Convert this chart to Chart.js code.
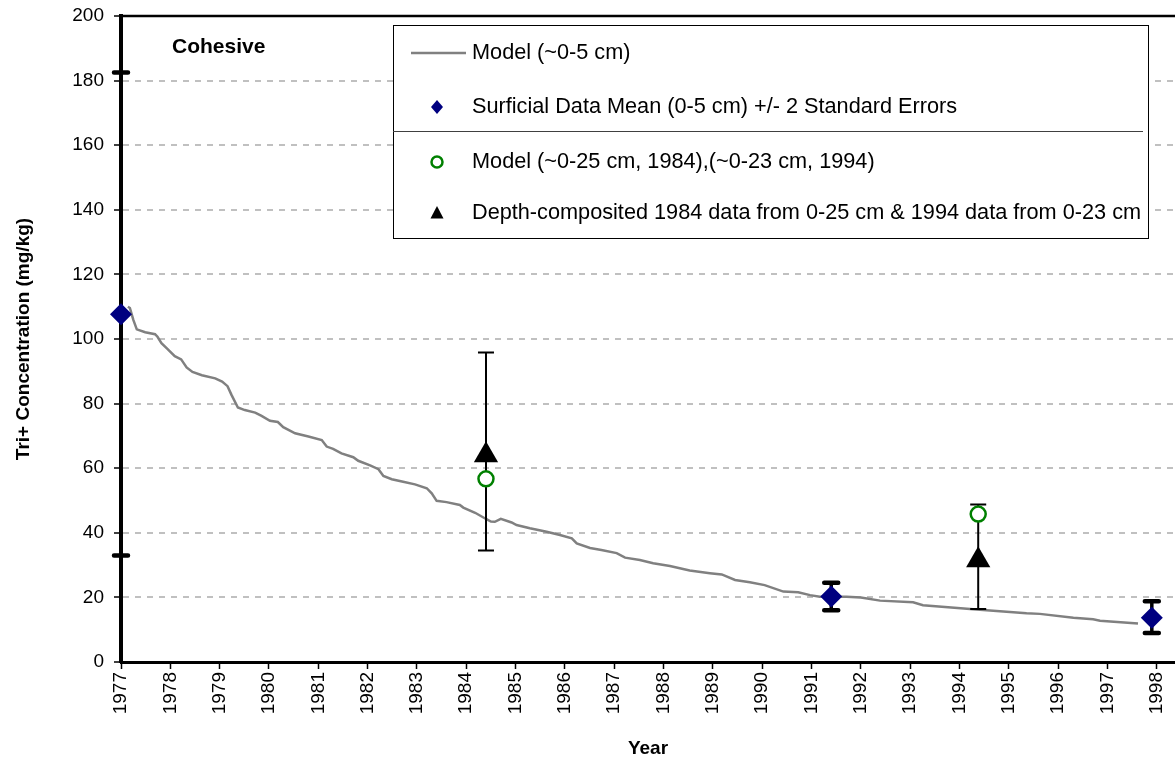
<!DOCTYPE html>
<html>
<head>
<meta charset="utf-8">
<title>Tri+ Concentration - Cohesive</title>
<script src="https://cdn.jsdelivr.net/npm/chart.js@4/dist/chart.umd.min.js"></script>
<style>
  html, body { margin: 0; padding: 0; background: #ffffff; overflow: hidden; }
  #wrap { width: 1175px; height: 762px; }
</style>
</head>
<body>
<div id="wrap"><canvas id="chart" width="1175" height="762"></canvas></div>
<script>
// Year tick labels on the x axis
const yearTicks = [1977, 1978, 1979, 1980, 1981, 1982, 1983, 1984, 1985, 1986, 1987,
                   1988, 1989, 1990, 1991, 1992, 1993, 1994, 1995, 1996, 1997, 1998];

// Model (~0-5 cm) time series
const modelYears = [
  1977.14, 1977.18, 1977.25, 1977.32, 1977.49, 1977.69, 1977.74, 1977.82, 1977.93, 1978.09,
  1978.22, 1978.33, 1978.45, 1978.64, 1978.91, 1979.05, 1979.16, 1979.24, 1979.37, 1979.51,
  1979.72, 1979.85, 1980.02, 1980.18, 1980.29, 1980.53, 1980.80, 1981.07, 1981.17, 1981.30,
  1981.47, 1981.71, 1981.81, 1982.05, 1982.22, 1982.32, 1982.49, 1982.72, 1982.96, 1983.20,
  1983.30, 1983.40, 1983.60, 1983.87, 1983.94, 1984.18, 1984.41, 1984.50, 1984.58, 1984.70,
  1984.92, 1985.02, 1985.29, 1985.63, 1985.90, 1986.14, 1986.24, 1986.51, 1986.74, 1987.05,
  1987.22, 1987.52, 1987.79, 1988.13, 1988.53, 1988.94, 1989.18, 1989.45, 1989.75, 1990.05,
  1990.43, 1990.73, 1990.97, 1991.17, 1991.71, 1992.00, 1992.39, 1993.06, 1993.26, 1994.28,
  1995.36, 1995.63, 1996.31, 1996.71, 1996.85, 1997.62
];
const modelValues = [
  110.0, 109.6, 105.9, 103.0, 102.1, 101.5, 100.7, 98.7, 97.1, 94.7,
  93.7, 91.2, 89.8, 88.8, 87.8, 86.8, 85.4, 82.7, 78.8, 78.0,
  77.2, 76.2, 74.7, 74.3, 72.7, 70.8, 69.8, 68.7, 66.7, 66.0,
  64.6, 63.4, 62.3, 60.9, 59.7, 57.6, 56.6, 55.8, 55.0, 53.8,
  52.2, 49.9, 49.5, 48.6, 47.8, 46.2, 44.2, 43.5, 43.4, 44.3,
  43.2, 42.4, 41.4, 40.3, 39.3, 38.3, 36.7, 35.3, 34.7, 33.7,
  32.3, 31.6, 30.6, 29.7, 28.3, 27.5, 27.1, 25.4, 24.7, 23.8,
  21.8, 21.6, 20.7, 20.2, 20.2, 20.0, 19.0, 18.5, 17.6, 16.3,
  15.1, 14.9, 13.7, 13.2, 12.8, 11.9
];

// Surficial data mean (0-5 cm) with +/- 2 standard errors
const surfYears = [1977.0, 1991.4, 1997.9];
const surfMeans = [107.7, 20.3, 13.7];
const surfLow   = [33.0, 16.0, 9.0];
const surfHigh  = [182.5, 24.5, 18.8];

// Depth-composited data (1984: 0-25 cm, 1994: 0-23 cm)
const compYears = [1984.4, 1994.38];
const compMeans = [64.0, 31.5];
const compLow   = [34.5, 16.4];
const compHigh  = [95.8, 48.8];

// Model over the deeper layers (~0-25 cm 1984, ~0-23 cm 1994)
const deepYears  = [1984.4, 1994.38];
const deepValues = [56.7, 45.8];

const FONT = "'Liberation Sans', Arial, Helvetica, sans-serif";

const toPoints = (xs, ys) => xs.map((x, i) => ({ x: x, y: ys[i] }));

// Draws vertical error bars for any dataset that carries an errorBars block,
// just before that dataset's markers so the markers sit on top.
const errorBarPlugin = {
  id: 'errorBars',
  beforeDatasetDraw(chart, args) {
    const ds = chart.data.datasets[args.index];
    const eb = ds.errorBars;
    if (!eb) return;
    const xs = chart.scales.x, ys = chart.scales.y, ctx = chart.ctx;
    ctx.save();
    ctx.strokeStyle = '#000000';
    ds.data.forEach((p, i) => {
      const px = xs.getPixelForValue(p.x);
      const lo = ys.getPixelForValue(eb.low[i]);
      const hi = ys.getPixelForValue(eb.high[i]);
      ctx.lineCap = 'butt';
      ctx.lineWidth = eb.stemWidth;
      ctx.beginPath();
      ctx.moveTo(px, lo);
      ctx.lineTo(px, hi);
      ctx.stroke();
      ctx.lineCap = eb.capStyle;
      ctx.lineWidth = eb.capWidth;
      ctx.beginPath();
      ctx.moveTo(px - eb.capHalf, lo); ctx.lineTo(px + eb.capHalf, lo);
      ctx.moveTo(px - eb.capHalf, hi); ctx.lineTo(px + eb.capHalf, hi);
      ctx.stroke();
    });
    ctx.restore();
  }
};

// Top frame line, panel label and the boxed legend
const decorPlugin = {
  id: 'decor',
  beforeDatasetsDraw(chart) {
    const { ctx, chartArea } = chart;
    ctx.save();
    ctx.strokeStyle = '#000000';
    ctx.lineWidth = 2.5;
    ctx.beginPath();
    ctx.moveTo(chartArea.left, chartArea.top);
    ctx.lineTo(chartArea.right, chartArea.top);
    ctx.stroke();
    ctx.restore();
  },
  afterDatasetsDraw(chart) {
    const ctx = chart.ctx;
    ctx.save();

    // panel label
    ctx.fillStyle = '#000000';
    ctx.font = 'bold 21px ' + FONT;
    ctx.textAlign = 'left';
    ctx.textBaseline = 'middle';
    ctx.fillText('Cohesive', 172, 47);

    // legend box
    const L = 393, T = 25, R = 1148, B = 238;
    ctx.fillStyle = '#ffffff';
    ctx.fillRect(L, T, R - L, B - T);
    ctx.strokeStyle = '#000000';
    ctx.lineWidth = 1;
    ctx.strokeRect(L + 0.5, T + 0.5, R - L, B - T);
    ctx.strokeStyle = '#404040';
    ctx.beginPath();
    ctx.moveTo(L, 131.5);
    ctx.lineTo(R - 5, 131.5);
    ctx.stroke();

    const ds = chart.data.datasets;
    const mx = 437, tx = 472;
    ctx.font = '21.7px ' + FONT;
    ctx.fillStyle = '#000000';
    ctx.textBaseline = 'middle';

    // row 1: model line
    ctx.strokeStyle = ds[3].borderColor;
    ctx.lineWidth = 2.5;
    ctx.beginPath();
    ctx.moveTo(411, 53); ctx.lineTo(466, 53);
    ctx.stroke();
    ctx.fillText(ds[3].label, tx, 53);

    // row 2: diamond
    ctx.fillStyle = ds[2].backgroundColor;
    ctx.beginPath();
    ctx.moveTo(mx, 107 - 7); ctx.lineTo(mx + 6, 107);
    ctx.lineTo(mx, 107 + 7); ctx.lineTo(mx - 6, 107);
    ctx.closePath();
    ctx.fill();
    ctx.fillStyle = '#000000';
    ctx.fillText(ds[2].label, tx, 107);

    // row 3: open circle
    ctx.strokeStyle = ds[0].borderColor;
    ctx.lineWidth = 2.5;
    ctx.beginPath();
    ctx.arc(mx, 162, 5.5, 0, Math.PI * 2);
    ctx.stroke();
    ctx.fillText(ds[0].label, tx, 162);

    // row 4: triangle
    ctx.fillStyle = ds[1].backgroundColor;
    ctx.beginPath();
    ctx.moveTo(mx, 213 - 7); ctx.lineTo(mx + 6.5, 213 + 5.5); ctx.lineTo(mx - 6.5, 213 + 5.5);
    ctx.closePath();
    ctx.fill();
    ctx.fillStyle = '#000000';
    ctx.fillText(ds[1].label, tx, 213);

    ctx.restore();
  }
};

const ctx = document.getElementById('chart').getContext('2d');
new Chart(ctx, {
  type: 'scatter',
  data: {
    datasets: [
      {
        label: 'Model (~0-25 cm, 1984),(~0-23 cm, 1994)',
        data: toPoints(deepYears, deepValues),
        order: 0,
        pointStyle: 'circle',
        pointRadius: 7.5,
        pointBorderWidth: 2.5,
        borderColor: '#008000',
        backgroundColor: '#ffffff',
        clip: false
      },
      {
        label: 'Depth-composited 1984 data from 0-25 cm & 1994 data from 0-23 cm',
        data: toPoints(compYears, compMeans),
        order: 1,
        pointStyle: 'triangle',
        pointRadius: 14,
        pointBorderWidth: 0,
        borderColor: '#000000',
        backgroundColor: '#000000',
        clip: false,
        errorBars: { low: compLow, high: compHigh, stemWidth: 2, capWidth: 2, capHalf: 8, capStyle: 'butt' }
      },
      {
        label: 'Surficial Data Mean (0-5 cm) +/- 2 Standard Errors',
        data: toPoints(surfYears, surfMeans),
        order: 2,
        pointStyle: 'rectRot',
        pointRadius: 11,
        pointBorderWidth: 0,
        borderColor: '#000080',
        backgroundColor: '#000080',
        clip: false,
        errorBars: { low: surfLow, high: surfHigh, stemWidth: 3.5, capWidth: 4.5, capHalf: 7, capStyle: 'round' }
      },
      {
        label: 'Model (~0-5 cm)',
        data: toPoints(modelYears, modelValues),
        order: 3,
        showLine: true,
        pointRadius: 0,
        borderColor: '#808080',
        borderWidth: 2.5,
        tension: 0,
        clip: false
      }
    ]
  },
  options: {
    responsive: false,
    animation: false,
    events: [],
    layout: { autoPadding: false, padding: { top: 16, right: 0, bottom: 0, left: 0 } },
    plugins: {
      legend: { display: false },
      tooltip: { enabled: false }
    },
    scales: {
      x: {
        type: 'linear',
        min: 1977,
        max: 1998.37,
        afterBuildTicks: (scale) => { scale.ticks = yearTicks.map(v => ({ value: v })); },
        afterFit: (scale) => {
          scale.height = 100;
          scale.paddingLeft = 0;
          scale.paddingRight = 0;
        },
        ticks: {
          autoSkip: false,
          minRotation: 90,
          maxRotation: 90,
          padding: 3,
          color: '#000000',
          font: { family: FONT, size: 19 },
          callback: (v) => String(v)
        },
        grid: {
          drawOnChartArea: false,
          drawTicks: true,
          tickLength: 7,
          tickColor: '#000000',
          tickWidth: 1.5
        },
        border: { display: true, color: '#000000', width: 3 },
        title: {
          display: true,
          text: 'Year',
          color: '#000000',
          font: { family: FONT, size: 19, weight: 'bold' },
          padding: { top: 2, bottom: 2 }
        }
      },
      y: {
        type: 'linear',
        min: 0,
        max: 200,
        afterFit: (scale) => {
          scale.width = 121;
          scale.paddingTop = 0;
          scale.paddingBottom = 0;
        },
        ticks: {
          stepSize: 20,
          padding: 10,
          color: '#000000',
          font: { family: FONT, size: 19 }
        },
        grid: {
          color: '#c0c0c0',
          lineWidth: 2,
          drawTicks: true,
          tickLength: 7,
          tickColor: '#000000',
          tickWidth: 1.5,
          tickBorderDash: []
        },
        border: { display: true, color: '#000000', width: 4, dash: [6, 6], dashOffset: 0 },
        title: {
          display: true,
          text: 'Tri+ Concentration (mg/kg)',
          color: '#000000',
          font: { family: FONT, size: 19, weight: 'bold' },
          padding: { top: 12, bottom: 12 }
        }
      }
    }
  },
  plugins: [errorBarPlugin, decorPlugin]
});
</script>
</body>
</html>
